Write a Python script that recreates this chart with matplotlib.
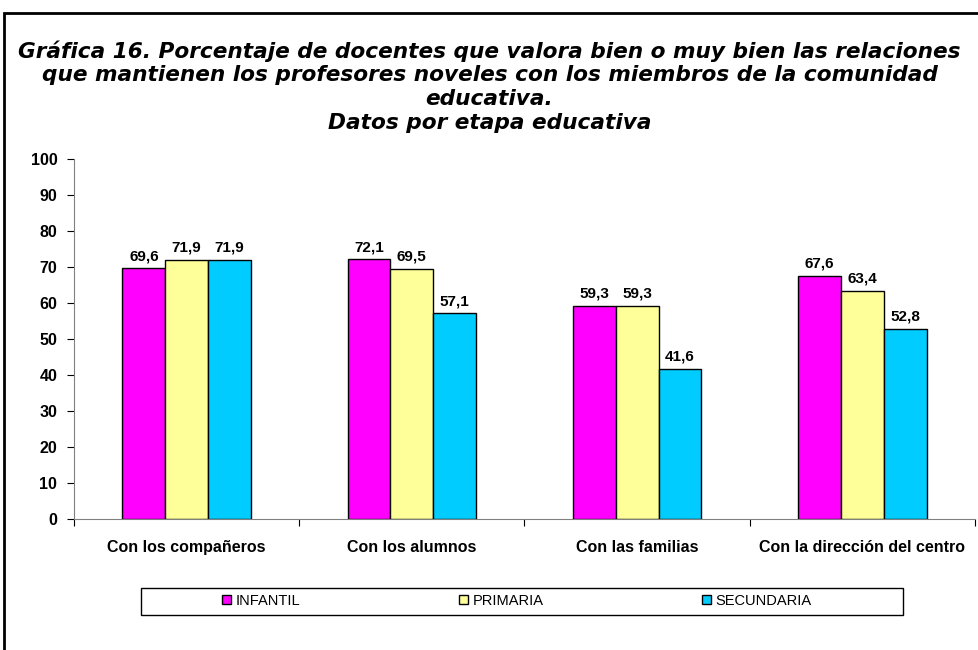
import numpy as np
import matplotlib
matplotlib.use("Agg")
import matplotlib.pyplot as plt
from matplotlib.patches import Rectangle

# Datos
categorias = ["Con los compañeros", "Con los alumnos", "Con las familias", "Con la dirección del centro"]
infantil = [69.6, 72.1, 59.3, 67.6]
primaria = [71.9, 69.5, 59.3, 63.4]
secundaria = [71.9, 57.1, 41.6, 52.8]
series = ["INFANTIL", "PRIMARIA", "SECUNDARIA"]
colores = ["#FF00FF", "#FFFF99", "#00CCFF"]

titulo = ("Gráfica 16. Porcentaje de docentes que valora bien o muy bien las relaciones\n"
          "que mantienen los profesores noveles con los miembros de la comunidad\n"
          "educativa.\n"
          "Datos por etapa educativa")

plt.rcParams["font.family"] = ["Liberation Sans", "DejaVu Sans"]

fig = plt.figure(figsize=(9.79, 6.5), dpi=100)
ax = fig.add_axes([74 / 979, 1 - 519 / 650, 901 / 979, 360 / 650])

x = np.arange(len(categorias))
w = 0.19
for i, (vals, nombre, c) in enumerate(zip([infantil, primaria, secundaria], series, colores)):
    pos = x + (i - 1) * w
    bars = ax.bar(pos, vals, width=w, color=c, edgecolor="black", linewidth=1, label=nombre)
    for b, v in zip(bars, vals):
        ax.text(b.get_x() + b.get_width() / 2, v + 1.5, f"{v:.1f}".replace(".", ","),
                ha="center", va="bottom", fontsize=11, fontweight="bold")

ax.set_xlim(-0.5, len(categorias) - 0.5)
ax.set_ylim(0, 100)
ax.set_yticks(range(0, 101, 10))
ax.tick_params(axis="y", labelsize=11.5, length=5, width=0.8, direction="out", pad=7)
for t in ax.get_yticklabels():
    t.set_fontweight("bold")

ax.set_xticks(x)
ax.set_xticklabels(categorias, fontsize=11.5, fontweight="bold")
ax.set_xticks(np.arange(-0.5, len(categorias), 1), minor=True)
ax.tick_params(axis="x", which="major", length=0, pad=15)
ax.tick_params(axis="x", which="minor", length=5, width=0.8, direction="out")

ax.spines["top"].set_visible(False)
ax.spines["right"].set_visible(False)
ax.spines["left"].set_color("#808080")
ax.spines["bottom"].set_color("#808080")

fig.text(0.5, 1 - 40 / 650, titulo, ha="center", va="top", fontsize=15.6,
         fontweight="bold", style="italic", family=["DejaVu Sans"], linespacing=1.23)

leg = ax.legend(loc="center", bbox_to_anchor=(517 / 979, 1 - 601 / 650), bbox_transform=fig.transFigure,
                ncol=3, frameon=False, fontsize=10.5,
                handlelength=0.6, handleheight=0.6, columnspacing=10.9, borderpad=0.4,
                handletextpad=0.3)

# recuadro de la leyenda
fig.patches.append(Rectangle((141 / 979, 1 - 615 / 650), 762 / 979, 27 / 650, transform=fig.transFigure,
                             fill=False, edgecolor="black", linewidth=1))

# marco exterior
fig.patches.append(Rectangle((4 / 979, -0.1), 1.2, 1.1 - 13 / 650, transform=fig.transFigure,
                             fill=False, edgecolor="black", linewidth=2))

fig.savefig("out.png", dpi=100)
